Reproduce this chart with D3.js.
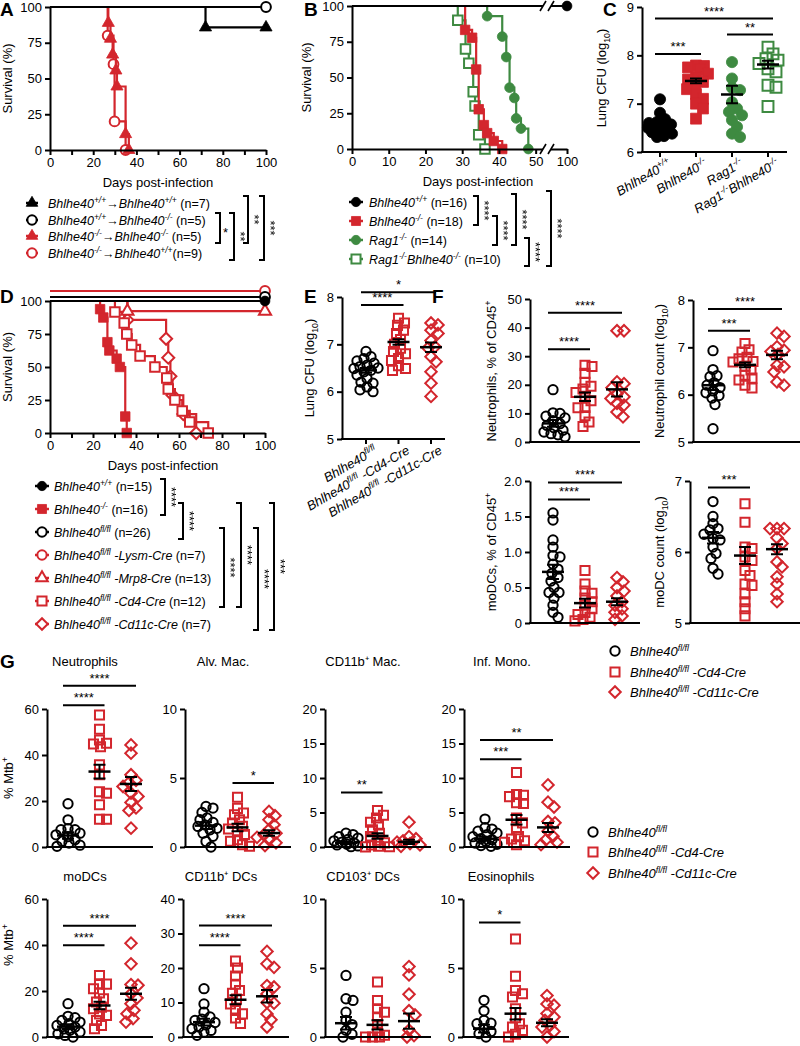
<!DOCTYPE html>
<html><head><meta charset="utf-8">
<script src="https://cdn.jsdelivr.net/npm/d3@7"></script>
<style>body{margin:0;background:#fff}svg{display:block}text{font-family:"Liberation Sans",Arial,Helvetica,sans-serif}</style>
</head><body><svg id="fig" width="800" height="1046"></svg>
<script>
// ================= DATA =================
// ---- Panel A (survival, days -> % surviving after each event)
const aDayTicks = [0,10,20,30,40,50,60,70,80,90,100];
const survTicks = [0,25,50,75,100];
const aWWdays = [72],  aWWsurv = [85.7];
const aWKdays = [],    aWKsurv = [];
const aKKdays = [27,28,29,30.5,31,35,36.5], aKKsurv = [88.9,77.8,66.7,55.6,44.4,11.1,0];
const aKWdays = [26.7,29.4,29.9,35],         aKWsurv = [80,60,20,0];
// ---- Panel B
const bDayTicks = [0,10,20,30,40,50,100];
const bWTdays = [], bWTsurv = [];
const bKOdays = [30.8,32.7,33.8,34.5,35.9,36.8,38.6,40.9], bKOsurv = [83.3,77.8,55.6,27.8,16.7,11.1,5.6,0];
const bRagdays = [36.8,40.9,42,42.9,44.2,44.7,46,48], bRagsurv = [92.9,78.6,64.3,42.9,35.7,21.4,14.3,0];
const bRagKOdays = [28.8,30.9,31.8,33,33.5,34.5,36.2], bRagKOsurv = [90,70,60,40,30,10,0];
// ---- Panel C (lung CFU log10)
const cWT = [7.09,6.81,6.68,6.62,6.6,6.57,6.55,6.52,6.5,6.48,6.45,6.41,6.38,6.33,6.31];
const cKO = [7.79,7.78,7.75,7.7,7.62,7.55,7.5,7.45,7.38,7.3,7.2,7.1,7.0,6.9,6.69];
const cRag = [7.86,7.52,7.33,7.28,7.03,6.9,6.83,6.76,6.66,6.52,6.38,6.31];
const cRagKO = [8.17,8.03,7.93,7.83,7.72,7.66,7.38,7.34,6.94,7.9];
const cMean = [6.55,7.47,7.19,7.81], cSem = [0.04,0.05,0.18,0.08];
// ---- Panel D (survival)
const dWTdays = [], dWTsurv = [];
const dKOdays = [23.3,24.8,26.7,27.6,31,32.5,35,35.7], dKOsurv = [93.8,87.5,68.8,62.5,56.3,50,12.5,0];
const dFLdays = [], dFLsurv = [];
const dLysmdays = [], dLysmsurv = [];
const dMrp8days = [36], dMrp8surv = [92.3];
const dCd4days = [30.2,34.5,35.7,38,41.9,48.8,54.3,55,58.1,61.5,65,73.6], dCd4surv = [91.7,83.3,75,66.7,58.3,50,41.7,33.3,25,16.7,8.3,0];
const dCd11cdays = [36,54,55,56,57,62,68], dCd11csurv = [85.7,71.4,57.1,42.9,28.6,14.3,0];
// ---- Panel E (lung CFU log10)
const eFL = [6.85,6.74,6.7,6.65,6.6,6.56,6.53,6.5,6.49,6.45,6.42,6.35,6.28,6.2,6.18,6.1,6.04,6.0];
const eCd4 = [7.55,7.45,7.4,7.3,7.23,7.1,7.0,6.92,6.85,6.8,6.7,6.66,6.55,6.49,6.45];
const eCd11c = [7.45,7.41,7.3,7.23,7.08,6.95,6.92,6.74,6.63,6.42,6.18,5.9];
const eMean = [6.45,7.05,6.94], eSem = [0.05,0.06,0.1];
// ---- Panel F
const fNeuFL = [18.3,10.2,10,9,8.4,7.5,6.4,5.8,5,4.1,3.5,2.9,2.5,1.8];
const fNeuCd4 = [26.8,26.4,24,20.9,19.5,18.5,17.3,16,14.4,12.1,12,9.2,7,5.4];
const fNeuCd11c = [38.9,38.9,21,20.4,19,16.9,15.8,15.2,13.5,12.9,10.5,8.8];
const fNeuMean = [6.5,15.8,18.4], fNeuSem = [1.2,1.5,2.5];
const fNcFL = [6.93,6.53,6.4,6.38,6.25,6.2,6.15,6.08,6.04,5.98,5.93,5.79,5.28];
const fNcCd4 = [7.08,6.95,6.9,6.79,6.76,6.7,6.69,6.6,6.52,6.41,6.35,6.31,6.2,6.14];
const fNcCd11c = [7.3,7.23,7.01,6.94,6.91,6.85,6.62,6.59,6.48,6.27,6.2];
const fNcMean = [6.2,6.63,6.84], fNcSem = [0.1,0.05,0.09];
const fMoFL = [1.55,1.45,1.17,1.07,0.95,0.93,0.83,0.76,0.7,0.64,0.59,0.5,0.43,0.43,0.35,0.25,0.15,0.08];
const fMoCd4 = [0.74,0.55,0.45,0.42,0.35,0.3,0.25,0.2,0.15,0.12,0.08,0.05,0.03];
const fMoCd11c = [0.64,0.58,0.5,0.45,0.38,0.3,0.25,0.2,0.15,0.1,0.05];
const fMoMean = [0.72,0.28,0.3], fMoSem = [0.1,0.06,0.05];
const fMcFL = [6.71,6.5,6.4,6.33,6.31,6.25,6.19,6.17,6.07,5.98,5.91,5.77,5.69];
const fMcCd4 = [6.68,6.42,6.07,6.05,5.93,5.88,5.74,5.67,5.55,5.53,5.41,5.3,5.2,5.1];
const fMcCd11c = [6.33,6.33,6.33,6.2,6.12,6.05,5.86,5.79,5.65,5.55,5.41,5.3];
const fMcMean = [6.2,5.95,6.04], fMcSem = [0.08,0.12,0.07];
// ---- Panel G (% Mtb+)
const gNeuFL = [18.8,11.8,8,7.5,7.5,6,5.3,4.5,3.2,2.5,1.7,0.8,0.3];
const gNeuCd4 = [57.4,51.2,46.5,45.1,44.8,43.6,35.7,31.4,24,23.4,18.4,12.1,12.1];
const gNeuCd11c = [44.4,40.8,31.4,29,28,26.3,23.4,22,19.4,17,15.9,8.2];
const gNeuMean = [5,32.8,27.4], gNeuSem = [1.4,3,3];
const gAlvFL = [2.94,2.82,2.5,2.1,1.98,1.78,1.6,1.49,1.35,1.25,1.0,0.77,0.4,0];
const gAlvCd4 = [3.6,2.8,2.46,2.34,1.98,1.73,1.5,1.3,1.1,0.9,0.53,0.41,0.17,0.05];
const gAlvCd11c = [2.58,2.27,1.98,1.61,1.25,1.0,0.89,0.7,0.53,0.3,0.1];
const gAlvMean = [1.55,1.42,1.01], gAlvSem = [0.25,0.27,0.2];
const gMacFL = [2.0,1.8,1.5,1.3,1.1,0.9,0.7,0.6,0.4,0.3,0.15,0.05];
const gMacCd4 = [5.3,4.6,4.2,3.6,3.2,2.5,2.0,1.5,1.0,0.6,0.3,0.1,0.05,0.02];
const gMacCd11c = [3.6,1.5,1.2,0.9,0.7,0.5,0.3,0.1];
const gMacMean = [0.6,1.6,0.75], gMacSem = [0.15,0.4,0.3];
const gMonoFL = [4.05,2.8,2.6,2.3,2.0,1.8,1.5,1.2,1.06,0.8,0.58,0.4,0.2,0.1];
const gMonoCd4 = [10.8,7.6,7.5,7.3,6.4,6.3,4.2,3.5,2.5,1.5,1.16,0.9,0.67,0.34];
const gMonoCd11c = [9.0,6.5,5.8,3.7,3.5,2.3,1.54,1.06,0.7,0.34];
const gMonoMean = [1.2,3.95,2.84], gMonoSem = [0.3,0.7,0.65];
const gMoFL = [14.5,9.0,8.4,7.2,6.5,5.8,5.0,4.3,3.5,2.9,2.2,1.4,0.7,0];
const gMoCd4 = [26.7,23.1,23,21,19.1,16.6,15.2,13,12.3,10,9.4,7.2,5,3.6];
const gMoCd11c = [40.8,31.8,22.8,22.5,18.8,17,14.5,11.6,10.1,8,6.5];
const gMoMean = [4.5,13.7,18.8], gMoSem = [1,1.6,2.6];
const gCdcFL = [14,9.6,7.2,5.8,5.2,4.8,4.2,3.5,2.9,2.4,1.9,1.4,0.5];
const gCdcCd4 = [22,20,17.7,15.3,13.5,12.7,11,9.6,7.7,6.7,5.5,3.9];
const gCdcCd11c = [24.8,21.2,20.2,14.9,14.5,12.5,10,9.8,6.7,5,2.9];
const gCdcMean = [4.3,10.8,11.8], gCdcSem = [1,1.3,1.8];
const gC103FL = [4.46,2.77,2.65,1.8,1.2,0.9,0.48,0.2,0];
const gC103Cd4 = [3.98,2.65,2.05,1.8,1.45,0.9,0.36,0.12,0,0,0];
const gC103Cd11c = [5.1,4.5,3.1,1.9,1.6,0.5,0.1,0];
const gC103Mean = [1.0,0.88,1.15], gC103Sem = [0.45,0.33,0.55];
const gEosFL = [2.66,1.9,1.2,1.0,0.96,0.6,0.4,0.24,0];
const gEosCd4 = [7.1,4.4,3.37,3.13,2.9,2.05,1.4,0.96,0.72,0.48,0.2,0];
const gEosCd11c = [3.0,2.4,2.3,1.7,1.45,1.2,0.84,0.72,0.4,0];
const gEosMean = [0.6,1.69,1.03], gEosSem = [0.28,0.42,0.25];

// ================= STYLE / HELPERS =================
const RED = "#d3262d", GREEN = "#3e8a41", BLK = "#000";
const FONT = '"Liberation Sans",Arial,Helvetica,sans-serif';
const svg = d3.select("#fig");
// grayscale filter for rotated star labels
svg.append('defs').append('filter').attr('id', 'gray').append('feColorMatrix').attr('type', 'saturate').attr('values', 0);
const SYM = {circle: d3.symbolCircle, square: d3.symbolSquare, diamond: d3.symbolSquare, triangle: d3.symbolTriangle};
const SIZE = {circle: 68, square: 82, diamond: 66, triangle: 58};

function sym(g, shape, x, y, color, filled, scale = 1, openFill = 'none') {
  g.append('path')
    .attr('d', d3.symbol().type(SYM[shape]).size(SIZE[shape] * scale)())
    .attr('transform', `translate(${x},${y})` + (shape === 'diamond' ? ' rotate(45)' : ''))
    .attr('fill', filled ? color : openFill)
    .attr('stroke', color).attr('stroke-width', filled ? 0.8 : 2);
}
// parts: [text, style] ; style: i italic, ^ superscript, _ subscript
function rich(t, parts, size) {
  let shift = 0;
  parts.forEach(([s, st = '']) => {
    const ts = t.append('tspan').text(s);
    if (st.includes('i')) ts.attr('font-style', 'italic');
    let target = 0, fs = size;
    if (st.includes('^')) { target = -size * 0.38; fs = size * 0.68; }
    else if (st.includes('_')) { target = size * 0.28; fs = size * 0.68; }
    ts.attr('font-size', fs);
    if (target !== shift) { ts.attr('dy', target - shift); shift = target; }
  });
  return t;
}
function styleAxis(sel) {
  sel.attr('font-size', 13).attr('font-family', FONT);
  sel.selectAll('path.domain').attr('stroke', BLK).attr('stroke-width', 2);
  sel.selectAll('.tick line').attr('stroke', BLK).attr('stroke-width', 2);
  sel.selectAll('.tick text').attr('fill', BLK);
}
function letter(x, y, s) {
  svg.append('text').attr('x', x).attr('y', y).attr('font-size', 19).attr('font-weight', 'bold').text(s);
}
function vlabel(x, y, parts, size = 13) {
  rich(svg.append('text').attr('transform', `translate(${x},${y}) rotate(-90)`).attr('text-anchor', 'middle').attr('font-size', size), parts, size);
}
// significance bracket; stars rotated 90° as one text element
function bracket(x, y1, y2, label, rot = true) {
  svg.append('path').attr('d', `M${x - 5},${y1}H${x}V${y2}H${x - 5}`).attr('fill', 'none').attr('stroke', BLK).attr('stroke-width', 2);
  const ym = (y1 + y2) / 2;
  if (rot) svg.append('g').attr('filter', 'url(#gray)').append('text').attr('transform', `translate(${x + 2},${ym}) rotate(90)`)
    .attr('text-anchor', 'middle').attr('font-size', 13).attr('fill', BLK).text(label);
  else svg.append('text').attr('x', x + 3).attr('y', ym + 9).attr('font-size', 13).text(label);
}
function legendRow(x, y, shape, color, filled, parts, opts = {}) {
  const g = svg.append('g');
  if (opts.line) g.append('line').attr('x1', x - opts.line).attr('x2', x + opts.line).attr('y1', y).attr('y2', y).attr('stroke', color).attr('stroke-width', 2.5);
  sym(g, shape, x, y, color, filled, 1, '#fff');
  rich(g.append('text').attr('x', x + opts.dx).attr('y', y + 4.5).attr('font-size', opts.fs || 12.5), parts, opts.fs || 12.5);
}

// ---------- survival panel ----------
function survPanel(o) {
  const g = svg.append('g');
  const x = o.x, y = o.y;
  o.series.forEach(s => {
    const dy = s.dy || 0;
    const pts = [[0, 100]]; let prev = 100;
    s.days.forEach((t, i) => { pts.push([t, prev], [t, s.surv[i]]); prev = s.surv[i]; });
    if (prev > 0) pts.push([100, prev]);
    g.append('path').attr('d', d3.line().x(d => x(d[0])).y(d => y(d[1]) + dy)(pts))
      .attr('fill', 'none').attr('stroke', s.color).attr('stroke-width', 2.2);
    const mk = s.days.map((t, i) => [t, s.surv[i]]);
    if (prev > 0) mk.push([100, prev]);
    mk.forEach(([t, v]) => sym(g, s.shape, x(t), y(v) + dy, s.color, s.filled, 1.1, '#fff'));
  });
  const ay = g.append('g').attr('transform', `translate(${x.range()[0]},0)`)
    .call(d3.axisLeft(y).tickValues(survTicks).tickSize(5).tickSizeOuter(0).tickPadding(3));
  styleAxis(ay);
  const ax = g.append('g').attr('transform', `translate(0,${y(0)})`)
    .call(d3.axisBottom(x).tickValues(o.xticks).tickFormat(o.xfmt).tickSize(5).tickSizeOuter(0).tickPadding(3));
  styleAxis(ax);
  vlabel(o.ylabX, (y(0) + y(100)) / 2, [['Survival (%)']]);
  svg.append('text').attr('x', o.xlabX).attr('y', y(0) + 37).attr('text-anchor', 'middle').attr('font-size', 13).text('Days post-infection');
  return g;
}

// ---------- scatter panel ----------
function swarm(vals, y, cx, minD, maxOff) {
  const pts = vals.map(v => ({v, py: y(v)})).sort((a, b) => a.py - b.py);
  const placed = [];
  pts.forEach(p => {
    let best = 0, bestScore = -1;
    for (let k = 0; k <= maxOff * 2; k++) {
      const off = (k % 2 ? 1 : -1) * Math.ceil(k / 2);
      const dmin = placed.length ? d3.min(placed, q => Math.hypot(q.px - (cx + off), q.py - p.py)) : Infinity;
      if (dmin >= minD) { best = off; break; }
      if (dmin > bestScore) { bestScore = dmin; best = off; }
    }
    p.px = cx + best; placed.push(p);
  });
  return placed;
}
function scatterPanel(o) {
  const g = svg.append('g');
  const y = d3.scaleLinear().domain(o.dom).range([o.yBot, o.yTop]);
  const cx = d3.scaleLinear().domain([0, o.groups.length - 1]).range(o.catX);
  o.groups.forEach((gr, i) => {
    swarm(gr.v, y, cx(i), o.minD || 7, o.maxOff || 12)
      .forEach(p => sym(g, gr.shape, p.px, p.py, gr.color, gr.filled, o.mscale || 1));
  });
  o.groups.forEach((gr, i) => {
    const c = cx(i), m = o.mean[i], e = o.sem[i];
    g.append('line').attr('x1', c - 11).attr('x2', c + 11).attr('y1', y(m)).attr('y2', y(m)).attr('stroke', BLK).attr('stroke-width', 2.5);
    g.append('path').attr('d', `M${c - 6},${y(m + e)}H${c + 6}M${c},${y(m + e)}V${y(m - e)}M${c - 6},${y(m - e)}H${c + 6}`)
      .attr('fill', 'none').attr('stroke', BLK).attr('stroke-width', 2);
  });
  const ay = g.append('g').attr('transform', `translate(${o.ax},0)`)
    .call(d3.axisLeft(y).tickValues(o.ticks).tickFormat((d, i) => o.tickLabels ? o.tickLabels[i] : d).tickSize(5).tickSizeOuter(0).tickPadding(3));
  styleAxis(ay);
  g.append('line').attr('x1', o.ax - 1).attr('x2', o.xEnd).attr('y1', o.yBot).attr('y2', o.yBot).attr('stroke', BLK).attr('stroke-width', 2);
  if (o.xticks) o.groups.forEach((gr, i) => g.append('line').attr('x1', cx(i)).attr('x2', cx(i)).attr('y1', o.yBot).attr('y2', o.yBot + 5).attr('stroke', BLK).attr('stroke-width', 2));
  (o.sigs || []).forEach(([a, b, v, lab]) => {
    g.append('line').attr('x1', cx(a) - 5).attr('x2', cx(b) + 5).attr('y1', y(v)).attr('y2', y(v)).attr('stroke', BLK).attr('stroke-width', 2);
    g.append('text').attr('x', (cx(a) + cx(b)) / 2).attr('y', y(v) - 3).attr('text-anchor', 'middle').attr('font-size', 13).text(lab);
  });
  if (o.ylab) vlabel(o.ylab[0], o.ylab[1], o.ylab[2]);
  if (o.title) svg.append('text').attr('x', o.title[0]).attr('y', o.title[1]).attr('text-anchor', 'middle').attr('font-size', 13).text(o.title[2]);
  if (o.xlabels) o.xlabels.forEach((parts, i) => {
    rich(svg.append('text').attr('transform', `translate(${cx(i) + 12},${o.yBot + 14}) rotate(-30)`).attr('text-anchor', 'end').attr('font-size', 13), parts, 13);
  });
}

// ---- genotype label parts ----
const B40 = (sup, rest = [], n = null) => [['Bhlhe40', 'i'], [sup, 'i^'], ...rest, ...(n ? [[n]] : [])];
const FL = (cre) => [['Bhlhe40', 'i'], ['fl/fl', 'i^'], [cre, 'i']];

// ================= PANEL A =================
letter(0, 16, 'A');
{
  const x = d3.scaleLinear().domain([0, 100]).range([50, 266]);
  const y = d3.scaleLinear().domain([0, 100]).range([150, 7]);
  survPanel({x, y, xticks: aDayTicks, xfmt: d => d % 20 === 0 ? d : '', ylabX: 12, xlabX: 158,
    series: [
      {days: aKWdays, surv: aKWsurv, color: RED, shape: 'circle', filled: false},
      {days: aKKdays, surv: aKKsurv, color: RED, shape: 'triangle', filled: true},
      {days: aWKdays, surv: aWKsurv, color: BLK, shape: 'circle', filled: false},
      {days: aWWdays, surv: aWWsurv, color: BLK, shape: 'triangle', filled: true}
    ]});
  const o = {line: 6, dx: 16};
  legendRow(32, 203, 'triangle', BLK, true, [...B40('+/+'), ['→'], ...B40('+/+'), [' (n=7)']], o);
  legendRow(32, 220, 'circle', BLK, false, [...B40('+/+'), ['→'], ...B40('-/-'), [' (n=5)']], o);
  legendRow(32, 236, 'triangle', RED, true, [...B40('-/-'), ['→'], ...B40('-/-'), [' (n=5)']], o);
  legendRow(32, 253, 'circle', RED, false, [...B40('-/-'), ['→'], ...B40('+/+'), ['(n=9)']], o);
  bracket(220, 213, 243, '*', false);
  bracket(234, 213, 260, '**');
  bracket(248, 196, 243, '**');
  bracket(264, 196, 260, '***');
}

// ================= PANEL B =================
letter(304, 16, 'B');
{
  const x = d3.scaleLinear().domain([0, 52, 97, 100]).range([352, 543, 551, 567]);
  const y = d3.scaleLinear().domain([0, 100]).range([149, 6]);
  survPanel({x, y, xticks: bDayTicks, xfmt: d => d, ylabX: 311, xlabX: 478,
    series: [
      {days: bRagKOdays, surv: bRagKOsurv, color: GREEN, shape: 'square', filled: false},
      {days: bKOdays, surv: bKOsurv, color: RED, shape: 'square', filled: true},
      {days: bRagdays, surv: bRagsurv, color: GREEN, shape: 'circle', filled: true},
      {days: bWTdays, surv: bWTsurv, color: BLK, shape: 'circle', filled: true}
    ]});
  // axis / line breaks
  [y(100), y(0)].forEach(yy => {
    svg.append('rect').attr('x', x(52)).attr('y', yy - 4).attr('width', x(97) - x(52)).attr('height', 8).attr('fill', '#fff');
    [x(52), x(97)].forEach(xx => svg.append('line').attr('x1', xx - 3).attr('x2', xx + 3).attr('y1', yy + 5).attr('y2', yy - 5).attr('stroke', BLK).attr('stroke-width', 1.6));
  });
  const o = {line: 7, dx: 13};
  legendRow(356, 202, 'circle', BLK, true, B40('+/+', [], ' (n=16)'), o);
  legendRow(356, 221, 'square', RED, true, B40('-/-', [], ' (n=18)'), o);
  legendRow(356, 240, 'circle', GREEN, true, [['Rag1', 'i'], ['-/-', 'i^'], [' (n=14)']], o);
  legendRow(356, 259, 'square', GREEN, false, [['Rag1', 'i'], ['-/-', 'i^'], ['Bhlhe40', 'i'], ['-/-', 'i^'], [' (n=10)']], o);
  bracket(478, 196, 225, '****');
  bracket(497, 216, 245, '****');
  bracket(516, 194, 245, '****');
  bracket(529, 238, 266, '****');
  bracket(551, 191, 266, '****');
}

// ================= PANEL C =================
letter(603, 16, 'C');
scatterPanel({ax: 642, xEnd: 787, yBot: 152, yTop: 7, dom: [6, 9], ticks: [6, 7, 8, 9], catX: [660, 768],
  mscale: 1.45, minD: 8, maxOff: 12, xticks: true,
  groups: [
    {v: cWT, shape: 'circle', color: BLK, filled: true},
    {v: cKO, shape: 'square', color: RED, filled: true},
    {v: cRag, shape: 'circle', color: GREEN, filled: true},
    {v: cRagKO, shape: 'square', color: GREEN, filled: false}],
  mean: cMean, sem: cSem,
  sigs: [[0, 3, 8.76, '****'], [2, 3, 8.43, '**'], [0, 1, 8.03, '***']],
  ylab: [606, 78, [['Lung CFU (log'], ['10', '_'], [')']]],
  xlabels: [B40('+/+'), B40('-/-'), [['Rag1', 'i'], ['-/-', 'i^']], [['Rag1', 'i'], ['-/-', 'i^'], ['Bhlhe40', 'i'], ['-/-', 'i^']]]
});

// ================= PANEL D =================
letter(0, 303, 'D');
{
  const x = d3.scaleLinear().domain([0, 100]).range([50, 265]);
  const y = d3.scaleLinear().domain([0, 100]).range([433, 301]);
  survPanel({x, y, xticks: aDayTicks, xfmt: d => d % 20 === 0 ? d : '', ylabX: 12, xlabX: 163,
    series: [
      {days: dCd11cdays, surv: dCd11csurv, color: RED, shape: 'diamond', filled: false},
      {days: dCd4days, surv: dCd4surv, color: RED, shape: 'square', filled: false},
      {days: dMrp8days, surv: dMrp8surv, color: RED, shape: 'triangle', filled: false},
      {days: dKOdays, surv: dKOsurv, color: RED, shape: 'square', filled: true},
      {days: dLysmdays, surv: dLysmsurv, color: RED, shape: 'circle', filled: false, dy: -10},
      {days: dFLdays, surv: dFLsurv, color: BLK, shape: 'circle', filled: false, dy: -4},
      {days: dWTdays, surv: dWTsurv, color: BLK, shape: 'circle', filled: true}
    ]});
  const o = {line: 7, dx: 12};
  legendRow(42, 486, 'circle', BLK, true, B40('+/+', [], ' (n=15)'), o);
  legendRow(42, 509, 'square', RED, true, B40('-/-', [], ' (n=16)'), o);
  legendRow(42, 532, 'circle', BLK, false, B40('fl/fl', [], ' (n=26)'), o);
  legendRow(42, 555, 'circle', RED, false, [...FL(' -Lysm-Cre'), [' (n=7)']], o);
  legendRow(42, 578, 'triangle', RED, false, [...FL(' -Mrp8-Cre'), [' (n=13)']], o);
  legendRow(42, 601, 'square', RED, false, [...FL(' -Cd4-Cre'), [' (n=12)']], o);
  legendRow(42, 624, 'diamond', RED, false, [...FL(' -Cd11c-Cre'), [' (n=7)']], o);
  bracket(165, 479, 515, '****');
  bracket(183, 503, 539, '****');
  bracket(224, 528, 607, '****');
  bracket(241, 503, 607, '****');
  bracket(258, 528, 630, '****');
  bracket(274, 503, 630, '***');
}

// ================= PANEL E =================
letter(304, 303, 'E');
scatterPanel({ax: 342, xEnd: 445, yBot: 439, yTop: 297, dom: [5, 8], ticks: [5, 6, 7, 8], catX: [366, 431], xticks: true,
  groups: [
    {v: eFL, shape: 'circle', color: BLK, filled: false},
    {v: eCd4, shape: 'square', color: RED, filled: false},
    {v: eCd11c, shape: 'diamond', color: RED, filled: false}],
  mean: eMean, sem: eSem,
  sigs: [[0, 2, 8.1, '*'], [0, 1, 7.83, '****']],
  ylab: [314, 368, [['Lung CFU (log'], ['10', '_'], [')']]],
  xlabels: [FL(''), FL(' -Cd4-Cre'), FL(' -Cd11c-Cre')]
});

// ================= PANEL F =================
letter(432, 303, 'F');
const grp3 = (a, b, c) => [
  {v: a, shape: 'circle', color: BLK, filled: false},
  {v: b, shape: 'square', color: RED, filled: false},
  {v: c, shape: 'diamond', color: RED, filled: false}];
scatterPanel({ax: 530, xEnd: 640, yBot: 442, yTop: 299, dom: [0, 50], ticks: [0, 10, 20, 30, 40, 50], catX: [553, 617],
  groups: grp3(fNeuFL, fNeuCd4, fNeuCd11c), mean: fNeuMean, sem: fNeuSem,
  sigs: [[0, 2, 45.2, '****'], [0, 1, 32.4, '****']],
  ylab: [496, 371, [['Neutrophils, % of CD45'], ['+', '^']]]});
scatterPanel({ax: 693, xEnd: 800, yBot: 442, yTop: 300, dom: [5, 8], ticks: [5, 6, 7, 8], catX: [713, 777],
  groups: grp3(fNcFL, fNcCd4, fNcCd11c), mean: fNcMean, sem: fNcSem,
  sigs: [[0, 2, 7.81, '****'], [0, 1, 7.35, '***']],
  ylab: [664, 371, [['Neutrophil count (log'], ['10', '_'], [')']]]});
scatterPanel({ax: 530, xEnd: 640, yBot: 623, yTop: 481, dom: [0, 2], ticks: [0, 0.5, 1, 1.5, 2], tickLabels: ['0', '0.5', '1.0', '1.5', '2.0'], catX: [553, 617],
  groups: grp3(fMoFL, fMoCd4, fMoCd11c), mean: fMoMean, sem: fMoSem,
  sigs: [[0, 2, 1.98, '****'], [0, 1, 1.74, '****']],
  ylab: [496, 552, [['moDCs, % of CD45'], ['+', '^']]]});
scatterPanel({ax: 690, xEnd: 800, yBot: 623, yTop: 481, dom: [5, 7], ticks: [5, 6, 7], catX: [713, 777],
  groups: grp3(fMcFL, fMcCd4, fMcCd11c), mean: fMcMean, sem: fMcSem,
  sigs: [[0, 1, 6.91, '***']],
  ylab: [664, 552, [['moDC count (log'], ['10', '_'], [')']]]});

// ================= PANEL G =================
letter(0, 668, 'G');
const gTop = {yBot: 847, yTop: 709, title: 666}, gBot = {yBot: 1037, yTop: 899, title: 881};
function gPanel(ax, row, dom, ticks, a, b, c, mean, sem, sigs, title) {
  scatterPanel({ax, xEnd: ax + 106, yBot: row.yBot, yTop: row.yTop, dom, ticks, catX: [ax + 21, ax + 84],
    groups: grp3(a, b, c), mean, sem, sigs, title: [ax + 38, row.title, title]});
}
gPanel(47, gTop, [0, 60], [0, 20, 40, 60], gNeuFL, gNeuCd4, gNeuCd11c, gNeuMean, gNeuSem, [[0, 2, 70.1, '****'], [0, 1, 61.6, '****']], 'Neutrophils');
gPanel(185, gTop, [0, 10], [0, 5, 10], gAlvFL, gAlvCd4, gAlvCd11c, gAlvMean, gAlvSem, [[1, 2, 4.63, '*']], 'Alv. Mac.');
gPanel(325, gTop, [0, 20], [0, 5, 10, 15, 20], gMacFL, gMacCd4, gMacCd11c, gMacMean, gMacSem, [[0, 1, 7.9, '**']], 'CD11b⁺ Mac.');
gPanel(464, gTop, [0, 20], [0, 5, 10, 15, 20], gMonoFL, gMonoCd4, gMonoCd11c, gMonoMean, gMonoSem, [[0, 2, 15.5, '**'], [0, 1, 12.7, '***']], 'Inf. Mono.');
gPanel(47, gBot, [0, 60], [0, 20, 40, 60], gMoFL, gMoCd4, gMoCd11c, gMoMean, gMoSem, [[0, 2, 48.4, '****'], [0, 1, 39.9, '****']], 'moDCs');
gPanel(183, gBot, [0, 40], [0, 10, 20, 30, 40], gCdcFL, gCdcCd4, gCdcCd11c, gCdcMean, gCdcSem, [[0, 2, 32.3, '****'], [0, 1, 26.6, '****']], 'CD11b⁺ DCs');
gPanel(325, gBot, [0, 10], [0, 5, 10], gC103FL, gC103Cd4, gC103Cd11c, gC103Mean, gC103Sem, [], 'CD103⁺ DCs');
gPanel(463, gBot, [0, 10], [0, 5, 10], gEosFL, gEosCd4, gEosCd11c, gEosMean, gEosSem, [[0, 1, 8.3, '*']], 'Eosinophils');
vlabel(13, 778, [['% Mtb'], ['+', '^']]);
vlabel(13, 945, [['% Mtb'], ['+', '^']]);
{
  const o = {dx: 15, fs: 13};
  legendRow(615, 651, 'circle', BLK, false, FL(''), o);
  legendRow(615, 672, 'square', RED, false, FL(' -Cd4-Cre'), o);
  legendRow(615, 692, 'diamond', RED, false, FL(' -Cd11c-Cre'), o);
  legendRow(593, 832, 'circle', BLK, false, FL(''), o);
  legendRow(593, 852, 'square', RED, false, FL(' -Cd4-Cre'), o);
  legendRow(593, 873, 'diamond', RED, false, FL(' -Cd11c-Cre'), o);
}
</script></body></html>
